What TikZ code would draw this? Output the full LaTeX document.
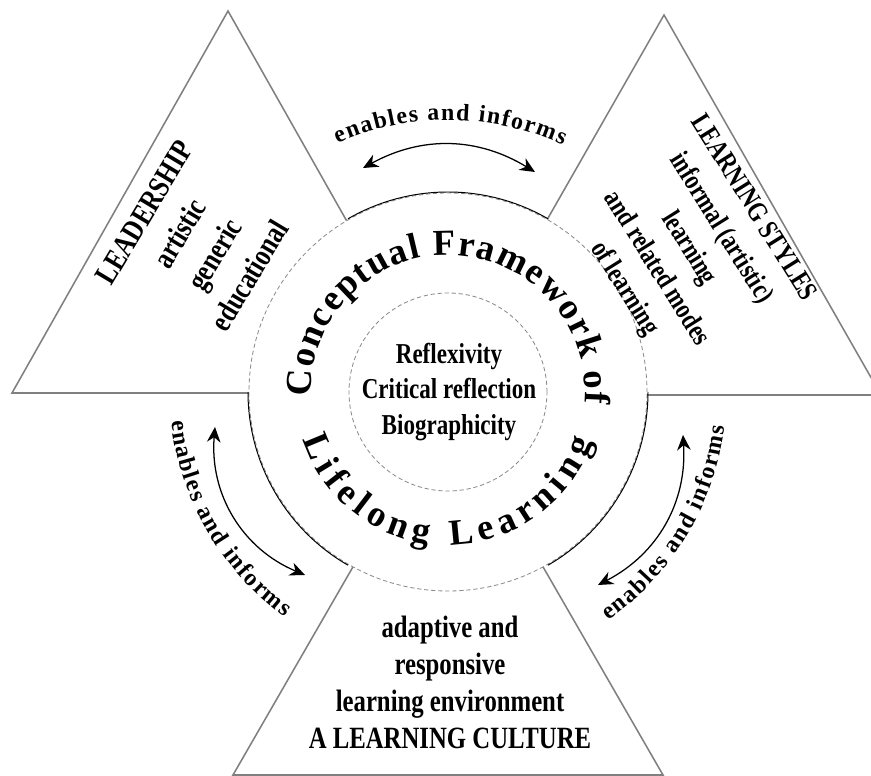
\documentclass[tikz,border=0pt]{standalone}
\usepackage{fontspec}
\setmainfont{Liberation Serif}
\newfontfamily\slimfont[FakeStretch=0.8]{Liberation Serif}
\usetikzlibrary{arrows.meta,decorations.text}

\newcommand{\ringfont}{\bfseries\fontsize{26pt}{30pt}\selectfont}
\newcommand{\linkfont}{\bfseries\fontsize{17pt}{20pt}\selectfont}

\begin{document}
\begin{tikzpicture}[
    x=0.025cm, y=0.025cm,
    tribox/.style={
        draw=black!50,
        line width=1.1pt
    },
    ringline/.style={
        draw=black!45,
        densely dashed,
        line width=0.6pt
    },
    tritext/.style={
        align=center,
        inner sep=0pt,
        font=\slimfont\bfseries\fontsize{22pt}{29pt}\selectfont
    },
    coretext/.style={
        align=center,
        inner sep=0pt,
        font=\slimfont\bfseries\fontsize{20.5pt}{25pt}\selectfont
    },
    twoway/.style={
        {Stealth[length=3.8mm,width=3.4mm]}-{Stealth[length=3.8mm,width=3.4mm]},
        line width=0.9pt
    }
]
\useasboundingbox (0,0) rectangle (871,776);
\clip (0,0) rectangle (871,776);

% =========================================================
% Triangles
% =========================================================
\draw[tribox] (228,765) -- (12,383) -- (444,383) -- cycle;
\draw[tribox] (664,761) -- (447,381) -- (881,381) -- cycle;
\draw[tribox] (448,374) -- (233,1) -- (663,1) -- cycle;

% =========================================================
% Central circles
% =========================================================
\coordinate (hub) at (448,384);
\fill[white] (hub) circle[radius=199];
\draw[ringline] (hub) circle[radius=199];
\draw[line width=0.7pt] ([shift={(60:200)}]hub) arc[start angle=60, end angle=120, radius=200];
\draw[line width=0.7pt] ([shift={(180:200)}]hub) arc[start angle=180, end angle=240, radius=200];
\draw[line width=0.7pt] ([shift={(300:200)}]hub) arc[start angle=300, end angle=360, radius=200];
\draw[ringline] (hub) circle[radius=99];

% =========================================================
% Texts
% =========================================================
\node[coretext] (core) at (449,384)
{Reflexivity\\Critical reflection\\Biographicity};

\node[tritext, rotate=59] (leadership) at (197,532)
{LEADERSHIP\\artistic\\generic\\educational};

\node[tritext, rotate=-58, font=\slimfont\bfseries\fontsize{20pt}{27pt}\selectfont] (styles) at (688,527)
{LEARNING STYLES\\informal (artistic)\\learning\\and related modes\\of learning};

\node[tritext, font=\slimfont\bfseries\fontsize{22pt}{26.3pt}\selectfont] (culture) at (450,94)
{adaptive and\\responsive\\learning environment\\A LEARNING CULTURE};

% ring title
\path[decorate, decoration={text along path, text align=fit to path,
    text={|\ringfont|Conceptual Framework of}}]
    ([shift={(182:137)}]hub) arc[start angle=182, end angle=-5, radius=137];
\path[decorate, decoration={text along path, text align=fit to path,
    text={|\ringfont|Lifelong Learning}}]
    ([shift={(198:153)}]hub) arc[start angle=198, end angle=341, radius=153];

% =========================================================
% Links between triangles
% =========================================================
\coordinate (topL) at (363,608);
\coordinate (topR) at (535,604);
\coordinate (leftU) at (215,349);
\coordinate (leftD) at (305,201);
\coordinate (rightU) at (683,341);
\coordinate (rightD) at (598,191);

\draw[twoway] (topL) to[bend left=30] (topR);
\draw[twoway] (leftU) to[bend right=36] (leftD);
\draw[twoway] (rightU) to[bend left=33] (rightD);

\path[decorate, decoration={text along path, text align=fit to path,
    text={|\linkfont|enables and informs}}]
    ([shift={(114:272)}]hub) arc[start angle=114, end angle=65, radius=272];
\path[decorate, decoration={text along path, text align=fit to path,
    text={|\linkfont|enables and informs}}]
    ([shift={(186:278)}]hub) arc[start angle=186, end angle=234, radius=278];
\path[decorate, decoration={text along path, text align=fit to path,
    text={|\linkfont|enables and informs}}]
    ([shift={(-55:279)}]hub) arc[start angle=-55, end angle=-7, radius=279];

\end{tikzpicture}
\end{document}
